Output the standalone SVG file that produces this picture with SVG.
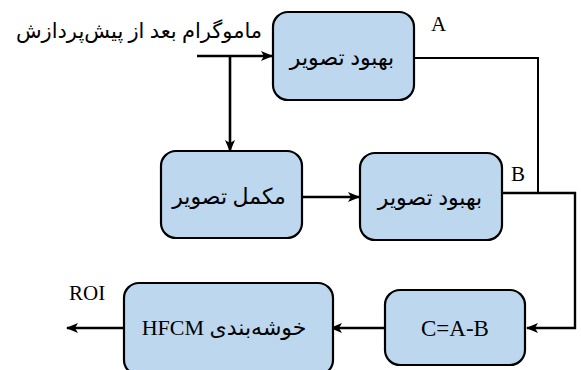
<svg xmlns="http://www.w3.org/2000/svg" width="581" height="370" viewBox="0 0 581 370">
<style>
.box{fill:#bdd7ee;stroke:#000;stroke-width:2.2}
.lbl{font-family:'Times New Roman','Liberation Serif','DejaVu Sans',serif;font-size:22px;fill:#000;text-anchor:middle;direction:rtl}
.lat{font-family:'Times New Roman','Liberation Serif',serif;font-size:21px;fill:#000}
.ln{fill:none;stroke:#000;stroke-width:2.6}
</style>
<defs>
<marker id="arr" viewBox="0 0 12 10" refX="11" refY="5" markerWidth="12" markerHeight="10" markerUnits="userSpaceOnUse" orient="auto">
<path d="M0,0 L12,5 L0,10 L3,5 Z" fill="#000"/>
</marker>
</defs>
<text class="lbl" x="139" y="38" style="font-size:21px">ماموگرام بعد از پیش‌پردازش</text>
<g id="connectors">
<path class="ln" d="M197,56 H272" marker-end="url(#arr)"/>
<path class="ln" d="M230,56 V151" marker-end="url(#arr)"/>
<path class="ln" d="M302,197 H359" marker-end="url(#arr)"/>
<path class="ln" d="M414,58 H538 V193" style="stroke-width:2"/>
<path class="ln" d="M502,193 H575 V328 H527" style="stroke-width:2.4" marker-end="url(#arr)"/>
<path class="ln" d="M385,328 H331" marker-end="url(#arr)"/>
<path class="ln" d="M125,328 H67" marker-end="url(#arr)"/>
</g>
<g id="enh1">
<rect class="box" x="273" y="12" width="141" height="88" rx="15"/>
<text class="lbl" x="342" y="65">بهبود تصویر</text>
</g>
<text class="lat" x="431" y="31">A</text>
<g id="comp">
<rect class="box" x="161" y="151" width="141" height="87" rx="15"/>
<text class="lbl" x="229" y="204">مکمل تصویر</text>
</g>
<g id="enh2">
<rect class="box" x="360" y="153" width="142" height="87" rx="15"/>
<text class="lbl" x="430" y="205">بهبود تصویر</text>
</g>
<text class="lat" x="511" y="181">B</text>
<g id="sub">
<rect class="box" x="385" y="290" width="140" height="75" rx="15"/>
<text class="lat" x="455" y="336" text-anchor="middle" style="font-size:23px">C=A-B</text>
</g>
<g id="hfcm">
<rect class="box" x="124" y="283" width="209" height="92" rx="15"/>
<text class="lbl" x="224" y="335">خوشه‌بندی HFCM</text>
</g>
<text class="lat" x="69" y="300">ROI</text>
</svg>
